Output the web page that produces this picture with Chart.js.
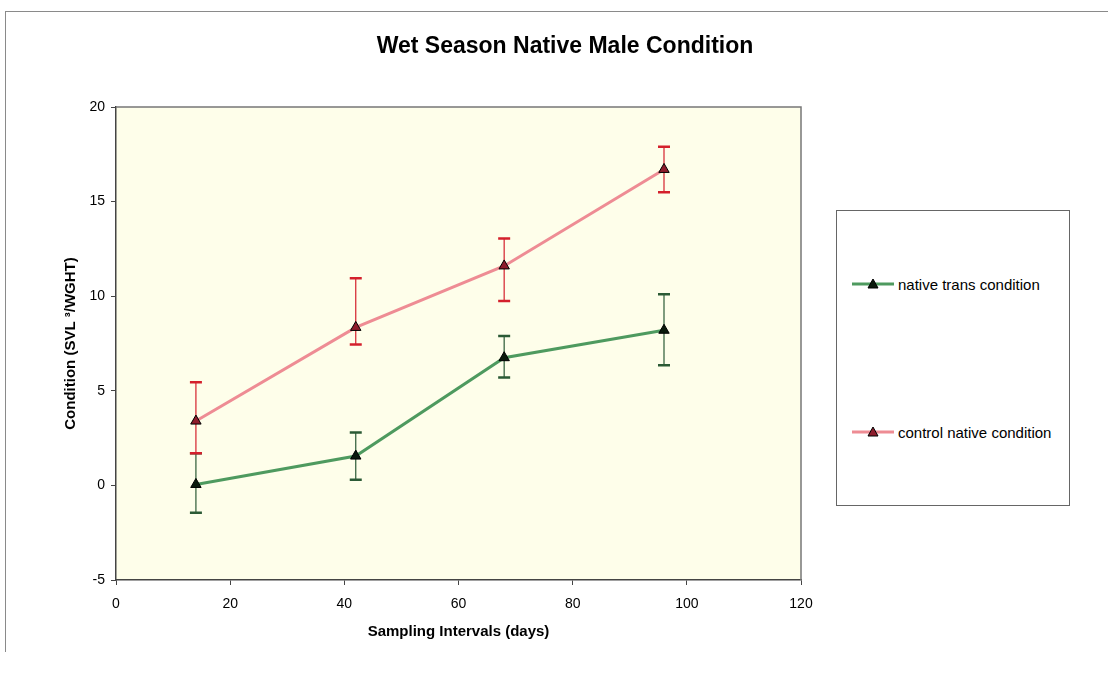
<!DOCTYPE html>
<html>
<head>
<meta charset="utf-8">
<script src="https://cdn.jsdelivr.net/npm/chart.js@4"></script>
<style>
  body { margin: 0; background: #fff; font-family: Arial, "Liberation Sans", sans-serif; }
  #wrap { position: relative; width: 1108px; height: 677px; overflow: hidden; }
  #frame { position: absolute; left: 5px; top: 11px; width: 1110px; height: 640px;
           border-top: 1px solid #8a8a8a; border-left: 1px solid #8a8a8a; }
  #title { position: absolute; left: 0; width: 1130px; top: 32px; text-align: center;
           font-weight: bold; font-size: 23px; color: #000; }
  #legend { position: absolute; left: 836px; top: 210px; width: 232px; height: 294px;
            border: 1px solid #666; background: #fff; }
  .item { position: absolute; left: 14px; height: 18px; font-size: 15px; color: #000;
          display: flex; align-items: center; white-space: nowrap; }
  .item svg { margin-right: 3px; }
  canvas { position: absolute; left: 0; top: 0; }
</style>
</head>
<body>
<div id="wrap">
  <div id="frame"></div>
  <canvas id="cond" width="1108" height="677"></canvas>
  <div id="title">Wet Season Native Male Condition</div>
  <div id="legend">
    <div class="item" style="top:64px">
      <svg width="44" height="12"><line x1="1" y1="6" x2="43" y2="6" stroke="#4e9a5f" stroke-width="3"/><polygon points="22,1 27,10 17,10" fill="#0b1a0d" stroke="#000" stroke-width="1"/></svg>native trans condition
    </div>
    <div class="item" style="top:212px">
      <svg width="44" height="12"><line x1="1" y1="6" x2="43" y2="6" stroke="#ee8c94" stroke-width="3"/><polygon points="22,1 27,10 17,10" fill="#8e1c2c" stroke="#000" stroke-width="1"/></svg>control native condition
    </div>
  </div>
</div>
<script>
// sampling days and condition means with their error bar half-lengths
const days = [14, 42, 68, 96];
const transCondition = [0.05, 1.55, 6.75, 8.2];
const transErrUp = [1.65, 1.25, 1.15, 1.9];
const transErrDown = [1.5, 1.25, 1.05, 1.85];
const controlCondition = [3.4, 8.35, 11.6, 16.7];
const controlErrUp = [2.05, 2.6, 1.45, 1.2];
const controlErrDown = [1.7, 0.9, 1.85, 1.2];
const xTicks = [0, 20, 40, 60, 80, 100, 120];
const yTicks = [-5, 0, 5, 10, 15, 20];

const toPoints = (ys) => days.map((d, i) => ({ x: d, y: ys[i] }));

// plot area fill + border
const plotBox = {
  id: "plotBox",
  beforeDraw(chart) {
    const { ctx, chartArea: a } = chart;
    ctx.save();
    ctx.fillStyle = "#fefeea";
    ctx.fillRect(a.left, a.top, a.right - a.left, a.bottom - a.top);
    ctx.restore();
  },
  afterDraw(chart) {
    const { ctx, chartArea: a } = chart;
    ctx.save();
    ctx.strokeStyle = "#777";
    ctx.lineWidth = 1.5;
    ctx.beginPath();
    ctx.moveTo(a.left, a.top);
    ctx.lineTo(a.right, a.top);
    ctx.lineTo(a.right, a.bottom);
    ctx.stroke();
    ctx.restore();
  }
};

// vertical error bars with caps, drawn from each dataset's errUp/errDown
const errorBars = {
  id: "errorBars",
  beforeDatasetsDraw(chart) {
    const { ctx, scales: { x, y } } = chart;
    chart.data.datasets.forEach((ds) => {
      ctx.save();
      ctx.strokeStyle = ds.errColor;
      ds.data.forEach((p, i) => {
        const px = x.getPixelForValue(p.x);
        const top = y.getPixelForValue(p.y + ds.errUp[i]);
        const bot = y.getPixelForValue(p.y - ds.errDown[i]);
        ctx.lineWidth = 1.2;
        ctx.beginPath();
        ctx.moveTo(px, top);
        ctx.lineTo(px, bot);
        ctx.stroke();
        ctx.lineWidth = 2.5;
        ctx.beginPath();
        ctx.moveTo(px - 6, top);
        ctx.lineTo(px + 6, top);
        ctx.moveTo(px - 6, bot);
        ctx.lineTo(px + 6, bot);
        ctx.stroke();
      });
      ctx.restore();
    });
  }
};

new Chart(document.getElementById("cond").getContext("2d"), {
  type: "line",
  data: {
    datasets: [{
      label: "native trans condition",
      data: toPoints(transCondition),
      errUp: transErrUp,
      errDown: transErrDown,
      errColor: "#2b5a35",
      borderColor: "#4e9a5f",
      borderWidth: 3,
      pointStyle: "triangle",
      pointRadius: 6,
      pointBackgroundColor: "#0b1a0d",
      pointBorderColor: "#000",
      pointBorderWidth: 1,
      fill: false,
      tension: 0
    }, {
      label: "control native condition",
      data: toPoints(controlCondition),
      errUp: controlErrUp,
      errDown: controlErrDown,
      errColor: "#d4202c",
      borderColor: "#ee8c94",
      borderWidth: 3,
      pointStyle: "triangle",
      pointRadius: 6,
      pointBackgroundColor: "#8e1c2c",
      pointBorderColor: "#000",
      pointBorderWidth: 1,
      fill: false,
      tension: 0
    }]
  },
  options: {
    responsive: false,
    animation: false,
    events: [],
    layout: { padding: { left: 58, right: 307, top: 107, bottom: 33 } },
    plugins: { legend: { display: false }, title: { display: false }, tooltip: { enabled: false } },
    scales: {
      x: {
        type: "linear",
        min: 0, max: 120,
        afterBuildTicks: (s) => { s.ticks = xTicks.map((v) => ({ value: v })); },
        afterFit: (s) => { s.height = 64; },
        ticks: { color: "#000", font: { family: "Arial", size: 14 }, padding: 11 },
        grid: { drawOnChartArea: false, drawTicks: true, tickLength: 5, color: "#444" },
        border: { display: true, color: "#444", width: 1.5 },
        title: { display: true, text: "Sampling Intervals (days)", color: "#000",
                 font: { family: "Arial", size: 15, weight: "bold" }, padding: { top: 4, bottom: 3 } }
      },
      y: {
        type: "linear",
        min: -5, max: 20,
        afterBuildTicks: (s) => { s.ticks = yTicks.map((v) => ({ value: v })); },
        afterFit: (s) => { s.width = 58; },
        ticks: { color: "#000", font: { family: "Arial", size: 14 }, padding: 6 },
        grid: { drawOnChartArea: false, drawTicks: true, tickLength: 5, color: "#444" },
        border: { display: true, color: "#444", width: 1.5 },
        title: { display: true, text: "Condition (SVL \u00B3/WGHT)", color: "#000",
                 font: { family: "Arial", size: 15, weight: "bold" }, padding: { top: 4, bottom: 4 } }
      }
    }
  },
  plugins: [plotBox, errorBars]
});
</script>
</body>
</html>
